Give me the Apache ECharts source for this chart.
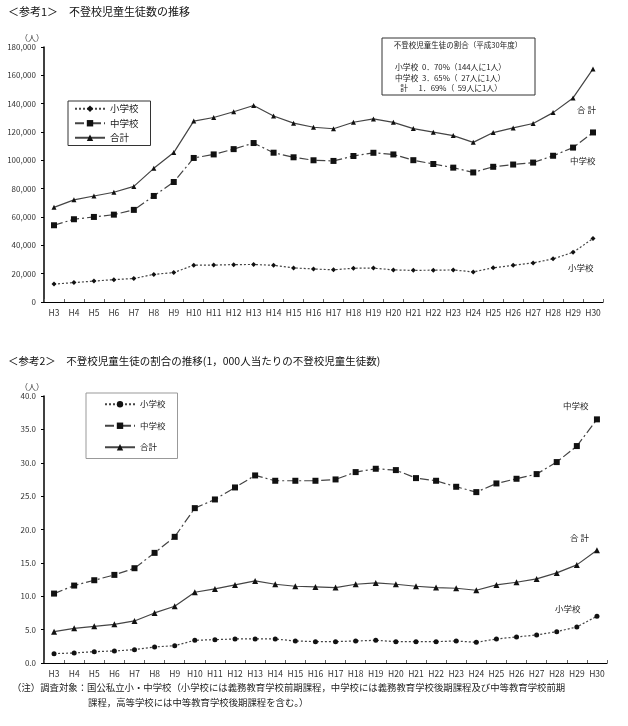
<!DOCTYPE html>
<html><head><meta charset="utf-8">
<script src="https://cdn.jsdelivr.net/npm/echarts@6/dist/echarts.min.js"></script>
<style>html,body{margin:0;padding:0;background:#fff}#c{width:628px;height:726px}</style>
</head><body><div id="c"></div>
<script>
const categories = ['H3','H4','H5','H6','H7','H8','H9','H10','H11','H12','H13','H14','H15','H16','H17','H18','H19','H20','H21','H22','H23','H24','H25','H26','H27','H28','H29','H30'];
const elemCount = [12645,13710,14769,15786,16569,19498,20765,26017,26047,26373,26511,25869,24077,23318,22709,23825,23927,22652,22327,22463,22622,21243,24175,25864,27583,30448,35032,44841];
const juniorCount = [54172,58421,60039,61663,65022,74853,84701,101675,104180,107913,112211,105383,102149,100040,99578,103069,105328,104153,100105,97428,94836,91446,95442,97033,98408,103235,108999,119687];
const totalCount = [66817,72131,74808,77449,81591,94351,105466,127692,130227,134286,138722,131252,126226,123358,122287,126894,129255,126805,122432,119891,117458,112689,119617,122897,125991,133683,144031,164528];
const elemRate = [1.4,1.5,1.7,1.8,2.0,2.4,2.6,3.4,3.5,3.6,3.6,3.6,3.3,3.2,3.2,3.3,3.4,3.2,3.2,3.2,3.3,3.1,3.6,3.9,4.2,4.7,5.4,7.0];
const juniorRate = [10.4,11.6,12.4,13.2,14.2,16.5,18.9,23.2,24.5,26.3,28.1,27.3,27.3,27.3,27.5,28.6,29.1,28.9,27.7,27.3,26.4,25.6,26.9,27.6,28.3,30.1,32.5,36.5];
const totalRate = [4.7,5.2,5.5,5.8,6.3,7.5,8.5,10.6,11.1,11.7,12.3,11.8,11.5,11.4,11.3,11.8,12.0,11.8,11.5,11.3,11.2,10.9,11.7,12.1,12.6,13.5,14.7,16.9];
const seriesNames = ['小学校','中学校','合計'];
const RATE_SUFFIX = '（割合）';

const FONT = '"Noto Sans CJK JP", "Noto Sans", sans-serif';
const chart = echarts.init(document.getElementById('c'), null, {renderer:'canvas'});

function xAxis(gi){
  return {type:'category', gridIndex:gi, data:categories, boundaryGap:true,
    axisLine:{lineStyle:{color:'#000',width:1.2}},
    axisTick:{show:true, inside:true, length:3, lineStyle:{color:'#666'}},
    axisLabel:{color:'#333', fontSize:8.5, fontFamily:FONT, margin:7, interval:0}};
}
function yAxis(gi, max, interval, fmt){
  return {type:'value', gridIndex:gi, min:0, max:max, interval:interval,
    name:'（人）', nameLocation:'end', nameGap:5,
    nameTextStyle:{color:'#333', fontSize:8, fontFamily:FONT, align:'right', padding:[0,0,0,0]},
    axisLine:{show:true, lineStyle:{color:'#000',width:1.5}},
    axisTick:{show:true, length:3, lineStyle:{color:'#000'}},
    splitLine:{show:false},
    axisLabel:{color:'#333', fontSize:8, fontFamily:FONT, margin:8, formatter:fmt}};
}
const lineColor = '#444';
function s(name, gi, data, dash, symbol, size){
  return {name:name, type:'line', xAxisIndex:gi, yAxisIndex:gi, data:data,
    symbol:symbol, symbolSize:size, showSymbol:true,
    lineStyle:{color:lineColor, width:1.2, type:dash},
    itemStyle:{color:'#111'}, emphasis:{disabled:true}, animation:false};
}
const dotted=[2,2], dashdot=[9,3,2,3];

chart.setOption({
  animation:false,
  textStyle:{fontFamily:FONT},
  grid:[
    {left:44, top:47, width:559, height:255},
    {left:44, top:396, width:563, height:267}
  ],
  xAxis:[xAxis(0), xAxis(1)],
  yAxis:[
    yAxis(0, 180000, 20000, v=>v.toLocaleString('en-US')),
    yAxis(1, 40, 5, v=>v.toFixed(1))
  ],
  legend:[
    {orient:'vertical', left:68, top:101, data:seriesNames, itemWidth:30, itemHeight:8, itemGap:5,
     padding:[3,12,3,6], borderColor:'#333', borderWidth:1,
     textStyle:{fontSize:9.5, color:'#222', fontFamily:FONT}, selectedMode:false},
    {orient:'vertical', left:86, top:393, data:seriesNames.map(n=>n+RATE_SUFFIX), itemWidth:30, itemHeight:8, itemGap:13,
     padding:[7,12,7,18], borderColor:'#999', borderWidth:1,
     formatter:n=>n.replace(RATE_SUFFIX,''),
     textStyle:{fontSize:8.5, color:'#222', fontFamily:FONT}, selectedMode:false}
  ],
  series:[
    s(seriesNames[0],0,elemCount,dotted,'diamond',5),
    s(seriesNames[1],0,juniorCount,dashdot,'rect',6),
    s(seriesNames[2],0,totalCount,'solid','triangle',5),
    s(seriesNames[0]+RATE_SUFFIX,1,elemRate,dotted,'circle',5),
    s(seriesNames[1]+RATE_SUFFIX,1,juniorRate,dashdot,'rect',6),
    s(seriesNames[2]+RATE_SUFFIX,1,totalRate,'solid','triangle',6)
  ],
  graphic:[
    {type:'text', left:8, top:6, style:{text:'＜参考1＞　不登校児童生徒数の推移', fontSize:11, fill:'#111', fontFamily:FONT}},
    {type:'text', left:8, top:356, style:{text:'＜参考2＞　不登校児童生徒の割合の推移(1，000人当たりの不登校児童生徒数)', fontSize:10.5, fill:'#111', fontFamily:FONT}},
    {type:'rect', shape:{x:382, y:38, width:153, height:57}, style:{fill:'#fff', stroke:'#333', lineWidth:1}},
    {type:'text', x:458, y:41, style:{text:'不登校児童生徒の割合（平成30年度）', fontSize:7.5, fill:'#222', align:'center', fontFamily:FONT}},
    {type:'text', x:395, y:62, style:{text:'小学校  0．70%（144人に1人）\n中学校  3．65%（  27人に1人）\n   計      1．69%（  59人に1人）', fontSize:7.8, lineHeight:10.5, fill:'#222', fontFamily:FONT}},
    {type:'text', x:577, y:106, style:{text:'合 計', fontSize:8.5, fill:'#222', fontFamily:FONT}},
    {type:'text', x:570, y:157, style:{text:'中学校', fontSize:8.5, fill:'#222', fontFamily:FONT}},
    {type:'text', x:568, y:264, style:{text:'小学校', fontSize:8.5, fill:'#222', fontFamily:FONT}},
    {type:'text', x:563, y:402, style:{text:'中学校', fontSize:8.5, fill:'#222', fontFamily:FONT}},
    {type:'text', x:570, y:534, style:{text:'合 計', fontSize:8.5, fill:'#222', fontFamily:FONT}},
    {type:'text', x:555, y:605, style:{text:'小学校', fontSize:8.5, fill:'#222', fontFamily:FONT}},
    {type:'text', x:12, y:683, style:{text:'（注）調査対象：国公私立小・中学校（小学校には義務教育学校前期課程，中学校には義務教育学校後期課程及び中等教育学校前期', fontSize:9.4, fill:'#222', fontFamily:FONT}},
    {type:'text', x:88, y:698, style:{text:'課程，高等学校には中等教育学校後期課程を含む。）', fontSize:9.4, fill:'#222', fontFamily:FONT}}
  ]
});
</script>
</body></html>
